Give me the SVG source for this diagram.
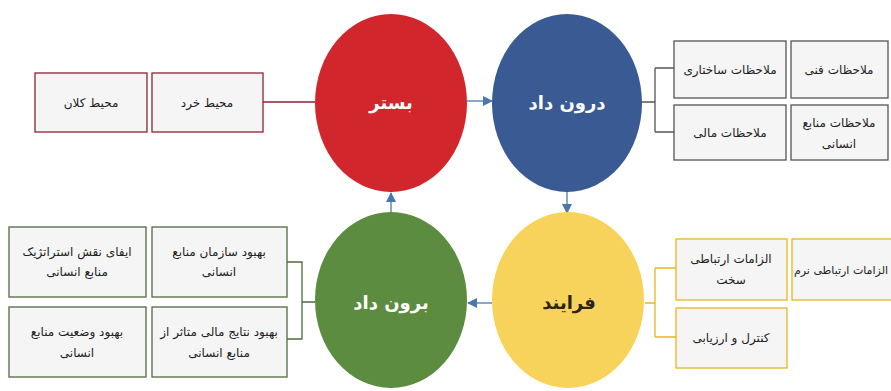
<svg xmlns="http://www.w3.org/2000/svg" width="891" height="391" viewBox="0 0 891 391">
<style>
text{font-family:"DejaVu Sans",sans-serif;text-anchor:middle;direction:rtl}
.bt{font-size:12px;fill:#222}
.ct{font-size:18px;font-weight:bold;fill:#fff}
.box{fill:#f5f5f5;stroke-width:1.3}
.rb{stroke:#8e2233}
.gb{stroke:#4f6b3f}
.nb{stroke:#555}
.yb{stroke:#e8b520}
.ln{fill:none;stroke-width:1.3}
</style>
<defs>
<marker id="ah" markerWidth="10" markerHeight="10" refX="9" refY="5" orient="auto" markerUnits="userSpaceOnUse">
<path d="M0,0 L10,5 L0,10 Z" fill="#4a78ad"/>
</marker>
</defs>
<rect width="891" height="391" fill="#fff"/>
<g id="connectors">
<path class="ln" stroke="#8e2233" d="M263,102 H315"/>
<path class="ln" stroke="#555" d="M642,102 H655 M655,68 V132 M655,68 H674 M655,132 H674"/>
<path class="ln" stroke="#4f6b3f" d="M287,262 H302 V339 H287 M302,302 H315"/>
<path class="ln" stroke="#e8b520" d="M645,303 H655 M655,268 V337 M655,268 H676 M655,337 H676"/>
<path class="ln" stroke="#4a78ad" stroke-width="2" d="M467,101 H492" marker-end="url(#ah)"/>
<path class="ln" stroke="#4a78ad" stroke-width="2" d="M567,192 V213" marker-end="url(#ah)"/>
<path class="ln" stroke="#4a78ad" stroke-width="2" d="M492,303 H468" marker-end="url(#ah)"/>
<path class="ln" stroke="#4a78ad" stroke-width="2" d="M391,213 V193" marker-end="url(#ah)"/>
</g>
<g id="bastar"><ellipse cx="391" cy="103" rx="76" ry="89" fill="#d1262b"/><text class="ct" x="391" y="109">بستر</text></g>
<g id="daroundad"><ellipse cx="567" cy="103" rx="75" ry="89" fill="#3a5a93"/><text class="ct" x="567" y="109">درون داد</text></g>
<g id="farayand"><ellipse cx="568" cy="300" rx="76" ry="88" fill="#f8d35c"/><text class="ct" x="569" y="309" style="fill:#2a2410">فرایند</text></g>
<g id="boroundad"><ellipse cx="391" cy="300" rx="76" ry="88" fill="#5b8c3f"/><text class="ct" x="391" y="309">برون داد</text></g>
<g id="mohit-kalan"><rect class="box rb" x="35" y="73" width="112" height="59"/><text class="bt" x="91" y="107">محیط کلان</text></g>
<g id="mohit-khord"><rect class="box rb" x="152" y="73" width="111" height="59"/><text class="bt" x="207" y="107">محیط خرد</text></g>
<g id="sakhtari"><rect class="box nb" x="674" y="41" width="112" height="57"/><text class="bt" x="730" y="74">ملاحظات ساختاری</text></g>
<g id="fanni"><rect class="box nb" x="791" y="41" width="97" height="57"/><text class="bt" x="839" y="74">ملاحظات فنی</text></g>
<g id="mali"><rect class="box nb" x="674" y="105" width="112" height="55"/><text class="bt" x="730" y="137">ملاحظات مالی</text></g>
<g id="manabe"><rect class="box nb" x="791" y="105" width="97" height="55"/><text class="bt" x="839" y="127">ملاحظات منابع</text><text class="bt" x="839" y="148">انسانی</text></g>
<g id="strategic"><rect class="box gb" x="9" y="227" width="137" height="70"/><text class="bt" x="77" y="256">ایفای نقش استراتژیک</text><text class="bt" x="77" y="276">منابع انسانی</text></g>
<g id="sazman"><rect class="box gb" x="152" y="227" width="135" height="70"/><text class="bt" x="219" y="256">بهبود سازمان منابع</text><text class="bt" x="219" y="276">انسانی</text></g>
<g id="vaziat"><rect class="box gb" x="9" y="307" width="137" height="70"/><text class="bt" x="77" y="336">بهبود وضعیت منابع</text><text class="bt" x="77" y="357">انسانی</text></g>
<g id="natayej"><rect class="box gb" x="152" y="307" width="135" height="70"/><text class="bt" x="219" y="336">بهبود نتایج مالی متاثر از</text><text class="bt" x="219" y="357">منابع انسانی</text></g>
<g id="sakht"><rect class="box yb" x="676" y="239" width="111" height="61"/><text class="bt" x="731" y="263">الزامات ارتباطی</text><text class="bt" x="731" y="284">سخت</text></g>
<g id="narm"><rect class="box yb" x="792" y="239" width="105" height="61"/><text class="bt" x="841" y="274" style="font-size:11px">الزامات ارتباطی نرم</text></g>
<g id="kontrol"><rect class="box yb" x="676" y="308" width="111" height="60"/><text class="bt" x="731" y="342">کنترل و ارزیابی</text></g>
</svg>
